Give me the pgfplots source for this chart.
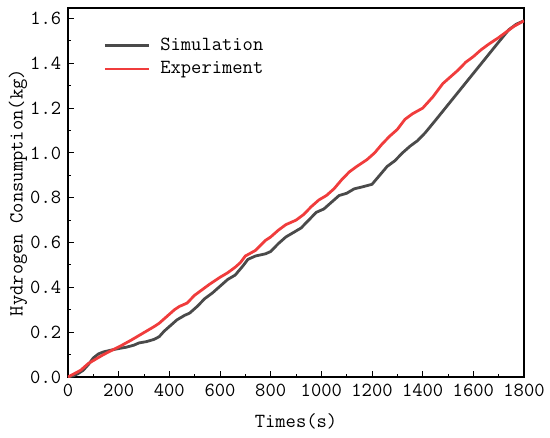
\documentclass[border=0pt]{standalone}
\usepackage{pgfplots}
\pgfplotsset{compat=1.18}
\definecolor{simgray}{HTML}{4A4A4A}
\definecolor{expred}{HTML}{F03C3C}
\newcommand{\reffont}{\ttfamily\fontsize{20bp}{23bp}\selectfont}
\begin{document}
\begin{tikzpicture}
\reffont
\begin{axis}[
  scale only axis,
  width=456bp, height=369bp,
  xmin=0, xmax=1800, ymin=0, ymax=1.647,
  xtick={0,200,...,1800},
  ytick={0,0.2,...,1.6},
  minor x tick num=1,
  minor y tick num=1,
  xtick pos=bottom, ytick pos=left,
  tick align=inside,
  major tick length=6bp,
  minor tick length=3.5bp,
  every tick/.style={black, line width=1pt},
  axis line style={line width=1.2pt},
  /pgf/number format/assume math mode=true,
  /pgf/number format/1000 sep={},
  yticklabel style={/pgf/number format/fixed, /pgf/number format/precision=1, /pgf/number format/fixed zerofill},
  tick label style={font=\reffont},
  label style={font=\reffont},
  xlabel={Times(s)},
  ylabel={Hydrogen Consumption(kg)},
  every axis x label/.style={at={(axis description cs:0.5,0)}, anchor=center, yshift=-44bp},
  every axis y label/.style={at={(axis description cs:0,0.5)}, rotate=90, anchor=center, yshift=50bp},
  legend cell align=left,
  legend style={draw=none, fill=none, at={(0.071,0.93)}, anchor=north west, row sep=4bp,
    font=\reffont, /tikz/every odd column/.append style={column sep=8bp}},
  legend image code/.code={\draw[#1] (0bp,0bp) -- (44bp,0bp);},
]
\addplot[simgray, line width=2.8pt, line join=round] coordinates {
(0,0) (20,0.005) (40,0.015) (60,0.03) (80,0.055) (100,0.085) (120,0.103) (140,0.112)
(170,0.12) (200,0.127) (230,0.133) (260,0.142) (280,0.152) (310,0.158) (340,0.168)
(360,0.18) (380,0.205) (410,0.235) (430,0.255) (460,0.275) (480,0.285) (510,0.315)
(540,0.35) (570,0.375) (600,0.405) (630,0.435) (660,0.455) (690,0.495) (710,0.525)
(740,0.54) (780,0.55) (800,0.56) (830,0.595) (860,0.625) (890,0.645) (920,0.665)
(950,0.70) (980,0.735) (1010,0.75) (1040,0.78) (1070,0.81) (1100,0.82) (1130,0.84)
(1160,0.848) (1200,0.86) (1230,0.9) (1260,0.94) (1290,0.965) (1320,1.0) (1350,1.03)
(1380,1.055) (1410,1.09) (1450,1.145) (1500,1.215) (1550,1.285) (1600,1.355)
(1650,1.425) (1700,1.495) (1740,1.55) (1770,1.575) (1800,1.59)
};
\addlegendentry{Simulation}
\addplot[expred, line width=2.8pt, line join=round] coordinates {
(0,0) (20,0.012) (50,0.03) (80,0.06) (110,0.08) (140,0.1) (175,0.12) (210,0.14)
(250,0.165) (280,0.185) (310,0.205) (340,0.225) (360,0.24) (390,0.27) (420,0.30)
(440,0.315) (470,0.33) (500,0.365) (530,0.39) (560,0.415) (600,0.445) (630,0.465)
(660,0.49) (680,0.51) (700,0.54) (740,0.565) (780,0.61) (800,0.625) (830,0.655)
(860,0.68) (900,0.70) (930,0.725) (960,0.76) (990,0.79) (1020,0.81) (1050,0.84)
(1080,0.88) (1110,0.915) (1140,0.94) (1180,0.97) (1210,1.0) (1240,1.04) (1270,1.075)
(1300,1.105) (1330,1.15) (1360,1.175) (1400,1.20) (1440,1.25) (1480,1.31) (1510,1.34)
(1540,1.37) (1570,1.405) (1600,1.43) (1630,1.46) (1660,1.485) (1700,1.515) (1730,1.54)
(1760,1.565) (1800,1.59)
};
\addlegendentry{Experiment}
\end{axis}
\pgfresetboundingbox
\path (current axis.south west) ++(-68bp,-61bp) coordinate (bbA);
\path (current axis.north east) ++(26bp,8bp) coordinate (bbB);
\path (bbA) rectangle (bbB);
\end{tikzpicture}
\end{document}
